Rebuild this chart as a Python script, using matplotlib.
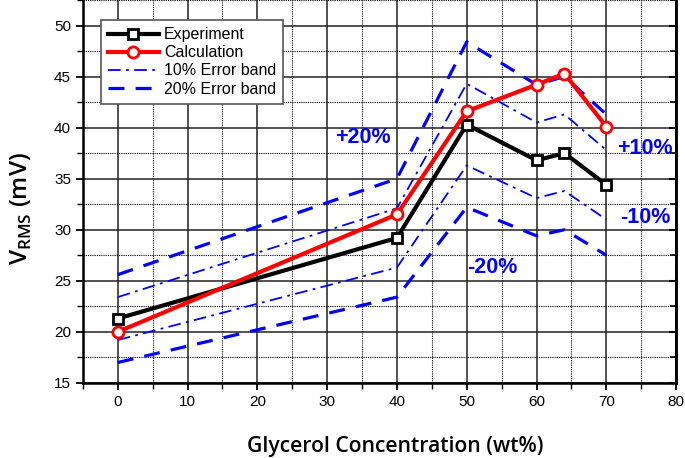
import numpy as np
import matplotlib.pyplot as plt
from matplotlib.ticker import MultipleLocator

# data
conc = [0, 40, 50, 60, 64, 70]
experiment = [21.3, 29.2, 40.3, 36.8, 37.5, 34.4]
calculation = [20.0, 31.5, 41.6, 44.2, 45.3, 40.1]
err10_hi = [23.4, 32.1, 44.3, 40.5, 41.3, 37.8]
err10_lo = [19.2, 26.3, 36.3, 33.1, 33.8, 31.0]
err20_hi = [25.6, 35.0, 48.4, 44.2, 45.0, 41.3]
err20_lo = [17.0, 23.4, 32.2, 29.4, 30.0, 27.5]

band_labels = ["+20%", "+10%", "-10%", "-20%"]
band_pos = [(35.1, 39.0), (75.6, 38.0), (75.6, 31.2), (53.7, 26.3)]

blue = "#0000ff"
plt.rcParams['font.family'] = ['Liberation Sans', 'DejaVu Sans']

fig = plt.figure(figsize=(6.85, 4.58), dpi=100)
ax = fig.add_axes([0.121, 0.164, 0.866, 0.836])

ax.plot(conc, err10_hi, color=blue, lw=1.3, ls=(0, (7, 3, 1.5, 3)), label="10% Error band", zorder=3)
ax.plot(conc, err10_lo, color=blue, lw=1.3, ls=(0, (7, 3, 1.5, 3)), zorder=3)
ax.plot(conc, err20_hi, color=blue, lw=2.3, ls=(0, (5, 3.5)), label="20% Error band", zorder=3)
ax.plot(conc, err20_lo, color=blue, lw=2.3, ls=(0, (5, 3.5)), zorder=3)
ax.plot(conc, experiment, color="black", lw=3, marker="s", ms=7.5, mfc="white",
        mec="black", mew=2, label="Experiment", zorder=4)
ax.plot(conc, calculation, color="red", lw=3, marker="o", ms=8, mfc="white",
        mec="red", mew=2, label="Calculation", zorder=5)

for txt, (x, y) in zip(band_labels, band_pos):
    ax.text(x, y, txt, color=blue, fontsize=15.5, fontweight="bold", ha="center", va="center", zorder=6)

ax.set_xlim(-5, 80)
ax.set_ylim(15, 52.5)
ax.xaxis.set_major_locator(MultipleLocator(10))
ax.xaxis.set_minor_locator(MultipleLocator(5))
ax.yaxis.set_major_locator(MultipleLocator(5))
ax.yaxis.set_minor_locator(MultipleLocator(2.5))
ax.grid(which="major", color="#222222", lw=1.1, ls="-")
ax.grid(which="minor", color="black", lw=0.8, ls=(0, (1, 1)))
ax.set_axisbelow(True)
ax.tick_params(which="major", direction="out", length=5, width=1.3, labelsize=11)
ax.tick_params(which="minor", direction="out", length=4, width=1.0)
for s in ["left", "bottom", "right"]:
    ax.spines[s].set_linewidth(1.8)
ax.spines["top"].set_visible(False)

# right side ticks point inward
ax2 = ax.twinx()
ax2.set_ylim(ax.get_ylim())
ax2.yaxis.set_major_locator(MultipleLocator(5))
ax2.yaxis.set_minor_locator(MultipleLocator(2.5))
ax2.tick_params(which="major", direction="in", length=5, width=1.5, labelright=False)
ax2.tick_params(which="minor", direction="in", length=4, width=1.2)
ax2.spines["top"].set_visible(False)
ax2.spines["right"].set_linewidth(1.8)

ax.set_xlabel("Glycerol Concentration (wt%)", family="Open Sans", fontweight="semibold",
              fontsize=15.2)
ax.xaxis.set_label_coords(0.526, -0.14)
ax.set_ylabel(r"V$_{\mathregular{RMS}}$ (mV)", family="Open Sans", fontweight="semibold",
              fontsize=17.5)
ax.yaxis.set_label_coords(-0.083, 0.454)

handles, labels = ax.get_legend_handles_labels()
order = [2, 3, 0, 1]
leg = ax.legend([handles[i] for i in order], [labels[i] for i in order],
                loc="upper left", bbox_to_anchor=(0.03, 0.948), fontsize=11.5,
                fancybox=False, framealpha=1, edgecolor="#555555",
                handlelength=3.2, borderaxespad=0, labelspacing=0.2, handletextpad=0.3,
                borderpad=0.45)
leg.get_frame().set_linewidth(1.2)
leg.set_zorder(10)

fig.savefig("out.png", dpi=100)
